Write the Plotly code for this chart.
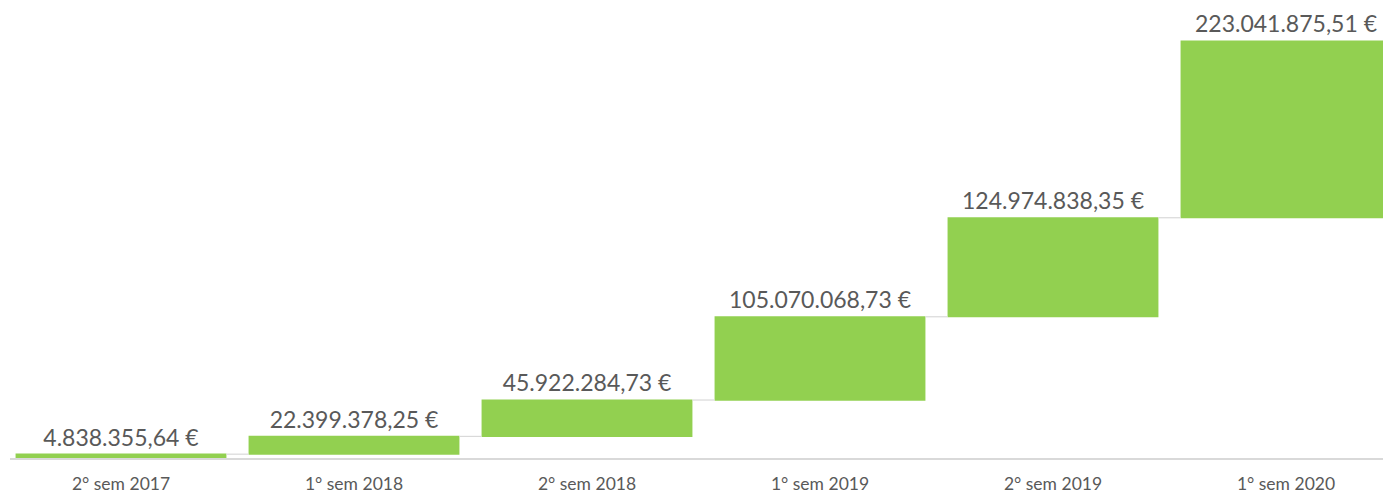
import plotly.graph_objects as go

categories = ["2° sem 2017", "1° sem 2018", "2° sem 2018", "1° sem 2019", "2° sem 2019", "1° sem 2020"]
values = [4838355.64, 22399378.25, 45922284.73, 105070068.73, 124974838.35, 223041875.51]


def fmt_eur(v):
    s = f"{v:,.2f}"
    s = s.replace(",", "X").replace(".", ",").replace("X", ".")
    return s + " €"


labels = [fmt_eur(v) for v in values]

fig = go.Figure(go.Waterfall(
    x=categories,
    y=values,
    measure=["relative"] * len(values),
    text=labels,
    textposition="outside",
    cliponaxis=False,
    textfont=dict(family="Lato", size=23, color="#595959"),
    increasing=dict(marker=dict(color="#92D050", line=dict(width=0))),
    connector=dict(line=dict(color="#D9D9D9", width=1.2)),
))

fig.update_layout(
    width=1391, height=494,
    margin=dict(l=2, r=0, t=0, b=44),
    paper_bgcolor="white", plot_bgcolor="white",
    showlegend=False,
    waterfallgap=0.095,
    xaxis=dict(
        range=[-0.4764, 5.485],
        showline=True, linecolor="#D9D9D9", linewidth=1.8,
        showgrid=False, ticks="",
        tickfont=dict(family="Lato", size=17.5, color="#595959"),
        ticklabelstandoff=9,
    ),
    yaxis=dict(
        range=[0, 567.9e6],
        visible=False, showgrid=False, zeroline=False,
    ),
)

fig.write_html("out.html")
